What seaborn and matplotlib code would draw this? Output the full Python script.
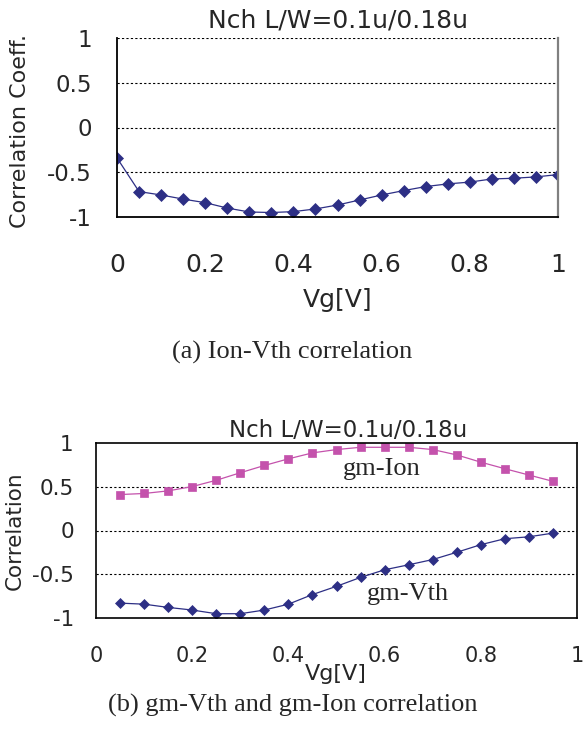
import matplotlib
matplotlib.use("Agg")
import matplotlib.pyplot as plt
import seaborn as sns
import pandas as pd

# ---- data ----
vg_a = [0.0, 0.05, 0.1, 0.15, 0.2, 0.25, 0.3, 0.35, 0.4, 0.45, 0.5,
        0.55, 0.6, 0.65, 0.7, 0.75, 0.8, 0.85, 0.9, 0.95, 1.0]
ion_vth = [-0.34, -0.716, -0.754, -0.80, -0.84, -0.90, -0.944, -0.95, -0.94,
           -0.91, -0.866, -0.81, -0.754, -0.705, -0.66, -0.63, -0.61, -0.575,
           -0.567, -0.552, -0.526]

vg_b = [0.05, 0.1, 0.15, 0.2, 0.25, 0.3, 0.35, 0.4, 0.45, 0.5,
        0.55, 0.6, 0.65, 0.7, 0.75, 0.8, 0.85, 0.9, 0.95]
gm_ion = [0.411, 0.423, 0.453, 0.502, 0.574, 0.66, 0.743, 0.819, 0.887, 0.925,
          0.951, 0.951, 0.951, 0.925, 0.864, 0.781, 0.706, 0.634, 0.562]
gm_vth = [-0.83, -0.842, -0.879, -0.909, -0.951, -0.951, -0.909, -0.842, -0.732,
          -0.638, -0.536, -0.449, -0.392, -0.332, -0.249, -0.162, -0.094, -0.072,
          -0.030]

y_ticks = [-1, -0.5, 0, 0.5, 1]
y_ticklabels = ["-1", "-0.5", "0", "0.5", "1"]
x_ticks = [0, 0.2, 0.4, 0.6, 0.8, 1.0]
x_ticklabels = ["0", "0.2", "0.4", "0.6", "0.8", "1"]
grid_levels = [0.5, 0, -0.5]

title_text = "Nch L/W=0.1u/0.18u"
caption_a = "(a) Ion-Vth correlation"
caption_b = "(b) gm-Vth and gm-Ion correlation"

NAVY = "#2D2F85"
MAGENTA = "#C452AC"

sns.set_style("white")
plt.rcParams["font.family"] = ["DejaVu Sans"]

df_a = pd.DataFrame({"Vg": vg_a, "r": ion_vth})
df_b = pd.DataFrame({"Vg": vg_b, "gm_ion": gm_ion, "gm_vth": gm_vth})

fig = plt.figure(figsize=(5.84, 7.46), dpi=100)
ax1 = fig.add_axes([117 / 584, 1 - 217 / 746, 441 / 584, 179 / 746])
ax2 = fig.add_axes([96 / 584, 1 - 618 / 746, 481 / 584, 175 / 746])

# ---- chart (a) ----
sns.lineplot(data=df_a, x="Vg", y="r", ax=ax1, color=NAVY, linewidth=0.9,
             marker="D", markersize=6, markeredgecolor=NAVY, markeredgewidth=0.5)
ax1.set_xlim(0, 1)
ax1.set_ylim(-1, 1)
for g in grid_levels + [1]:
    ax1.axhline(g, color="black", linestyle=(0, (2, 2)), linewidth=0.8, zorder=0)
ax1.set_yticks(y_ticks)
ax1.set_yticklabels(y_ticklabels, fontsize=16.5)
ax1.set_xticks(x_ticks)
ax1.set_xticklabels(x_ticklabels, fontsize=18)
ax1.tick_params(axis="y", length=0, pad=18)
ax1.tick_params(axis="x", length=7, width=1.5, color="#808080", direction="out", pad=19)
ax1.spines["top"].set_visible(False)
ax1.spines["right"].set_color("#808080")
ax1.spines["right"].set_linewidth(1.6)
ax1.spines["left"].set_color("black")
ax1.spines["left"].set_linewidth(1.3)
ax1.spines["bottom"].set_color("black")
ax1.spines["bottom"].set_linewidth(1.3)
ax1.set_xlabel("")
ax1.set_ylabel("")

# ---- chart (b) ----
sns.lineplot(data=df_b, x="Vg", y="gm_ion", ax=ax2, color=MAGENTA, linewidth=0.9,
             marker="s", markersize=5.5, markeredgecolor=MAGENTA, markeredgewidth=0.5)
sns.lineplot(data=df_b, x="Vg", y="gm_vth", ax=ax2, color=NAVY, linewidth=0.9,
             marker="D", markersize=4.8, markeredgecolor=NAVY, markeredgewidth=0.5)
ax2.set_xlim(0, 1)
ax2.set_ylim(-1, 1)
for g in grid_levels:
    ax2.axhline(g, color="black", linestyle=(0, (2, 2)), linewidth=0.8, zorder=0)
ax2.set_yticks(y_ticks)
ax2.set_yticklabels(y_ticklabels, fontsize=15.5)
ax2.set_xticks(x_ticks)
ax2.set_xticklabels(x_ticklabels, fontsize=15)
ax2.tick_params(axis="y", length=0, pad=16)
ax2.tick_params(axis="x", length=6, width=1.2, color="#808080", direction="out", pad=14)
for s in ax2.spines.values():
    s.set_color("black")
    s.set_linewidth(1.2)
ax2.set_xlabel("")
ax2.set_ylabel("")
ax2.text(0.595, 0.70, "gm-Ion", ha="center", va="center",
         family="Liberation Serif", fontsize=19)
ax2.text(0.649, -0.73, "gm-Vth", ha="center", va="center",
         family="Liberation Serif", fontsize=19)

# ---- figure texts ----
fig.text(338 / 584, 1 - 21 / 746, title_text, ha="center", va="center", fontsize=18)
fig.text(348 / 584, 1 - 430 / 746, title_text, ha="center", va="center", fontsize=16.5)
fig.text(20 / 584, 1 - 131 / 746, "Correlation Coeff.", rotation=90,
         ha="center", va="center", fontsize=16)
fig.text(15 / 584, 1 - 531 / 746, "Correlation", rotation=90,
         ha="center", va="center", fontsize=15.5)
fig.text(338 / 584, 1 - 300 / 746, "Vg[V]", ha="center", va="center", fontsize=18)
fig.text(336 / 584, 1 - 674 / 746, "Vg[V]", ha="center", va="center", fontsize=16)
fig.text(292 / 584, 1 - 352 / 746, caption_a, ha="center", va="center",
         family="Liberation Serif", fontsize=19)
fig.text(293 / 584, 1 - 705 / 746, caption_b, ha="center", va="center",
         family="Liberation Serif", fontsize=19)

fig.savefig("out.png", dpi=100)
